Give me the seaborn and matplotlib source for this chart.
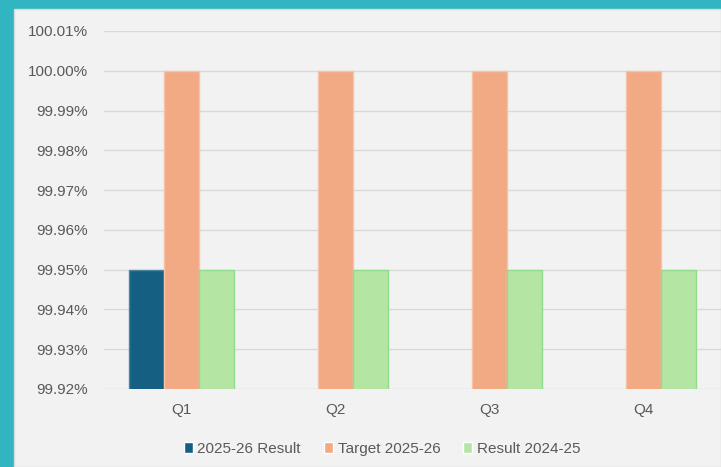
import matplotlib
matplotlib.use("Agg")
import matplotlib.pyplot as plt
import seaborn as sns
import pandas as pd
import numpy as np
from matplotlib.patches import Rectangle
from matplotlib.ticker import FuncFormatter

quarters = ["Q1", "Q2", "Q3", "Q4"]
series_names = ["2025-26 Result", "Target 2025-26", "Result 2024-25"]
result_2025_26 = [99.95, np.nan, np.nan, np.nan]
target_2025_26 = [100.00, 100.00, 100.00, 100.00]
result_2024_25 = [99.95, 99.95, 99.95, 99.95]
y_ticks = [99.92, 99.93, 99.94, 99.95, 99.96, 99.97, 99.98, 99.99, 100.00, 100.01]

rows = []
for name, vals in zip(series_names, [result_2025_26, target_2025_26, result_2024_25]):
    for q, v in zip(quarters, vals):
        rows.append({"Quarter": q, "Series": name, "Value": v})
df = pd.DataFrame(rows)

colors = ["#156082", "#F2AA84", "#B4E5A2"]
edges = ["#4A86A0", "#F6C3A8", "#8EDC8C"]

sns.set_theme(style="white")
plt.rcParams['font.family'] = ['Liberation Sans', 'DejaVu Sans']

fig = plt.figure(figsize=(7.21, 4.67), dpi=100)
fig.patch.set_facecolor("#31B5C1")
fig.add_artist(Rectangle((14/721, 0), 1 - 14/721, (467-9)/467, transform=fig.transFigure,
                         facecolor="#F2F2F2", edgecolor="#DADADA", lw=1, zorder=-5))

ax = fig.add_axes([104/721, 1 - 389/467, 1 - 104/721, (389-31)/467])
ax.set_zorder(1)
ax.set_facecolor("none")

sns.barplot(data=df, x="Quarter", y="Value", hue="Series", hue_order=series_names,
            order=quarters, palette=colors, width=0.68, ax=ax, legend=True,
            errorbar=None, saturation=1)

for cont, ec in zip(ax.containers, edges):
    for bar in cont:
        bar.set_edgecolor(ec)
        bar.set_linewidth(1)

ax.set_ylim(99.92, 100.01)
ax.set_xlim(-0.5, 3.5)
ax.set_yticks(y_ticks)
ax.yaxis.set_major_formatter(FuncFormatter(lambda v, p: f"{v:.2f}%"))
ax.grid(axis="y", color="#D9D9D9", lw=1)
ax.set_axisbelow(True)
for s in ax.spines.values():
    s.set_visible(False)
ax.set_xlabel("")
ax.set_ylabel("")
ax.tick_params(axis="y", length=0, pad=11.5, labelsize=11, labelcolor="#595959")
ax.tick_params(axis="x", length=0, pad=10, labelsize=11, labelcolor="#595959")

handles, labels = ax.get_legend_handles_labels()
ax.legend(handles, labels, loc="center", bbox_to_anchor=(382/721, 1 - 449/467),
          bbox_transform=fig.transFigure, ncol=3, frameon=False, fontsize=11,
          handlelength=0.6, handleheight=0.75, handletextpad=0.3, columnspacing=1.5,
          labelcolor="#595959")

fig.savefig("out.png", dpi=100, facecolor=fig.get_facecolor())
